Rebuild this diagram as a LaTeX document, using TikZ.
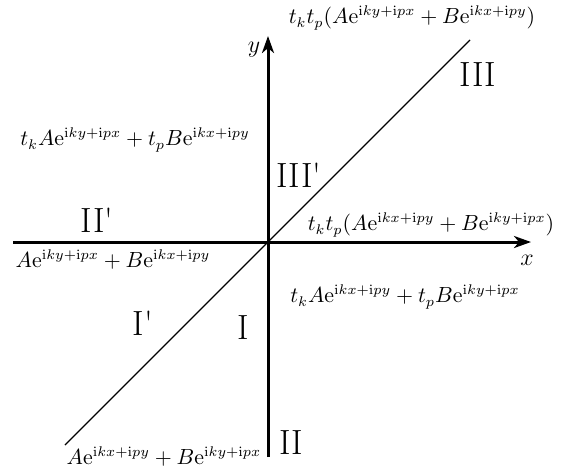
\documentclass[tikz,border=0pt]{standalone}
\usetikzlibrary{arrows.meta}
\newcommand{\rmi}{\mathrm{i}}
\newcommand{\rme}{\mathrm{e}}
\newcommand{\pr}{\textquotesingle}
\begin{document}
\begin{tikzpicture}[x=0.5pt,y=-0.5pt,
  axis/.style={line width=1.5pt,-{Stealth[length=8.5pt,width=6pt,inset=2.5pt]}},
  diag/.style={line width=0.6pt},
  lbl/.style={inner sep=0pt,anchor=center,font=\fontsize{10.6}{12}\selectfont},
  region/.style={inner sep=0pt,anchor=center,font=\fontsize{17.5}{20}\selectfont}]
\useasboundingbox (0,0) rectangle (571,468);
\coordinate (O) at (268,242);
\coordinate (xs) at (13,242);
\coordinate (xe) at (531,242);
\coordinate (ys) at (268,457);
\coordinate (ye) at (268,36);
\coordinate (ds) at (65,445);
\coordinate (de) at (470,40);
\draw[diag] (ds) -- (de);
\draw[axis] (xs) -- (xe);
\draw[axis] (ys) -- (ye);
\node[lbl] (xl) at (527,260) {\large$x$};
\node[lbl] (yl) at (254,50) {\large$y$};
\node[lbl] (t1) at (412,18) {$t_kt_p(A\rme^{\rmi ky+\rmi px}+B\rme^{\rmi kx+\rmi py})$};
\node[lbl] (t2) at (135,140) {$t_kA\rme^{\rmi ky+\rmi px}+t_pB\rme^{\rmi kx+\rmi py}$};
\node[lbl] (t3) at (431,225) {$t_kt_p(A\rme^{\rmi kx+\rmi py}+B\rme^{\rmi ky+\rmi px})$};
\node[lbl] (t4) at (113,260) {$A\rme^{\rmi ky+\rmi px}+B\rme^{\rmi kx+\rmi py}$};
\node[lbl] (t5) at (405,297) {$t_kA\rme^{\rmi kx+\rmi py}+t_pB\rme^{\rmi ky+\rmi px}$};
\node[lbl] (t6) at (164,457) {$A\rme^{\rmi kx+\rmi py}+B\rme^{\rmi ky+\rmi px}$};
\node[region] (r3) at (478,75) {III};
\node[region] (r3p) at (299,175) {III\pr};
\node[region] (r2p) at (97,220) {II\pr};
\node[region] (r1p) at (143,323) {I\pr};
\node[region] (r1) at (243,328) {I};
\node[region] (r2) at (291,443) {II};
\end{tikzpicture}
\end{document}
